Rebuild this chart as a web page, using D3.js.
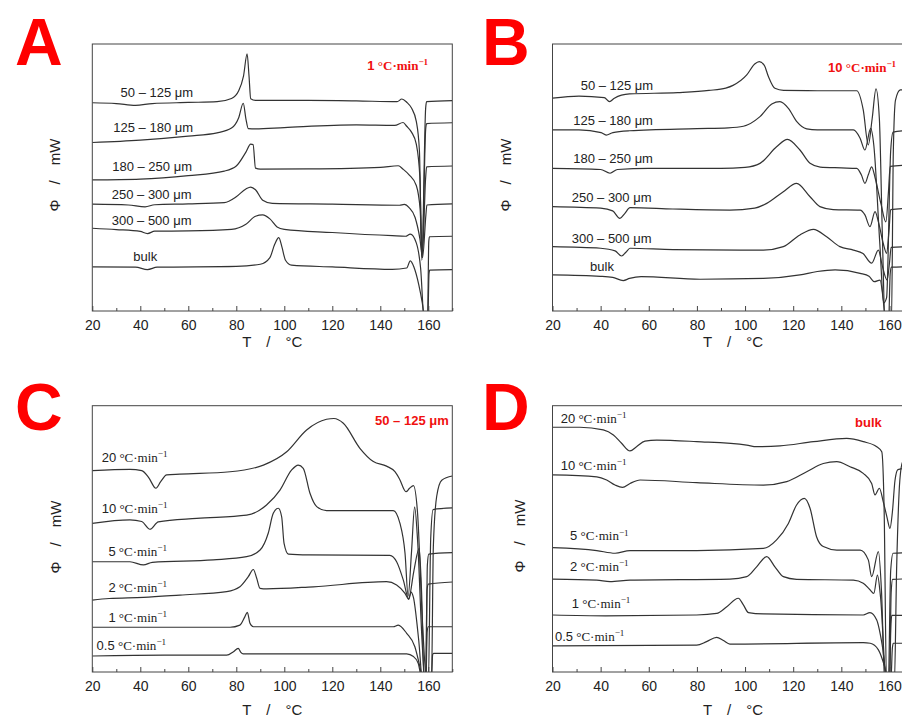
<!DOCTYPE html>
<html>
<head>
<meta charset="utf-8">
<script src="https://cdn.jsdelivr.net/npm/d3@7"></script>
<style>
  body { margin: 0; background: #fff; }
  svg { display: block; }
  text { font-family: Arial, "Liberation Sans", sans-serif; fill: #222; }
</style>
</head>
<body>
<svg id="fig" width="902" height="717"></svg>
<script>
// ---- data: [T in °C, heat flow (arbitrary, stacked)] ----

const tempTicks = [20, 40, 60, 80, 100, 120, 140, 160];
const tempMinor = [30, 50, 70, 90, 110, 130, 150, 170];

const sizeNames = ["50 – 125 μm", "125 – 180 μm", "180 – 250 μm", "250 – 300 μm", "300 – 500 μm", "bulk"];
const rateNames = ["20", "10", "5", "2", "1", "0.5"];

// A: 1 °C/min, particle sizes
const a_50_125 = [[20,78.0],[30,77.7],[38,77.0],[45,77.7],[60,78.1],[72,78.4],[78,79.6],[81,82.5],[83,88],[84.5,96.3],[85.3,88],[86,79.5],[88,78.9],[110,78.9],[130,78.7],[147,78.4],[149,79.4],[151,78.2],[153,76],[155,71],[156.3,60],[157.3,19],[158.9,76],[159.3,78.4],[170,78.8]];
const a_125_180 = [[20,63.1],[40,64.0],[60,65.5],[72,66.7],[78,68.5],[81,72.4],[82.9,77.8],[84,72],[85,68.3],[88,68.2],[100,68.7],[130,69.7],[146,69.5],[149.5,70.6],[151,69.2],[153,67],[155,62.5],[156.5,50],[157.4,20],[158.9,68],[159.3,70.2],[170,70.5]];
const a_180_250 = [[20,49.1],[40,49.4],[60,50.7],[75,52.4],[80,54.3],[84,59.5],[86,62.5],[87,62.3],[88,53.5],[90,53.1],[110,53.2],[140,53.8],[147.5,54.4],[149.5,53.1],[152,51],[155,47],[156.6,38],[157.5,21],[158.9,50],[159.3,54.0],[170,54.3]];
const a_250_300 = [[20,40.0],[35,39.7],[42,39.0],[46,39.8],[60,40.1],[75,40.6],[80,42.8],[84,45.7],[86,46.4],[88,45.4],[91,41.5],[95,40.3],[120,40.0],[148,39.6],[150,39.9],[152,38.7],[154.5,35],[156.5,27],[157.6,20],[159,36],[159.4,39.7],[170,40.1]];
const a_300_500 = [[20,31.0],[30,30.5],[40,29.8],[43,29.0],[46,29.9],[60,30.0],[78,30.6],[84,32.5],[88,35.5],[91,36.0],[94,34.5],[97,31.5],[100,30.6],[120,29.4],[145,28.2],[150.5,28.0],[152.5,28.8],[155,25.5],[156.8,16],[158.3,-3],[159.7,-3],[160.2,26],[160.5,27.8],[170,28.0]];
const a_bulk = [[20,16.5],[38,16.4],[43,15.5],[47,16.4],[80,16.7],[90,17.5],[94,20],[96,25],[97.7,27.5],[99,24],[100.5,19],[103,17.2],[120,16.5],[145,15.6],[151,16.1],[152.5,18.8],[154,16.5],[156,10],[157.5,3],[158.5,-3],[159.8,-3],[160.3,14],[160.6,15.3],[170,15.5]];

// B: 10 °C/min, particle sizes
const b_50_125 = [[20,79.7],[31,80.5],[41.5,79.9],[43.7,78.4],[45.7,79.7],[52,81.3],[72,81.8],[85,82.6],[92,83.5],[95,84.5],[100.7,88.4],[104,92.5],[105.9,93.4],[108,92],[109.7,87.8],[112.4,83.4],[116,82.6],[130,82.5],[146.4,82.5],[149.1,75.3],[151.2,62.2],[152.8,72],[154.4,83.2],[155.8,72],[157,30],[158.2,-5],[160.8,-5],[161.6,60],[162.5,79],[164.5,82.8],[170,83]];
const b_125_180 = [[20,67.8],[31,67.8],[40.2,66.8],[42.3,65.9],[45.1,66.8],[52,67.5],[80,68.3],[93,68.6],[99.3,69.2],[106.2,72.8],[111.1,77.5],[114.5,78.4],[118,75.9],[121.5,70.9],[125.6,68.2],[130,67.8],[145,67.8],[147.8,64.7],[149.8,60.3],[152.2,68.4],[153.5,62],[156,25],[157.6,3],[158.8,5],[160.5,60],[161.5,67],[170,67.8]];
const b_180_250 = [[20,53.4],[40,53.0],[43.9,51.6],[47,53.0],[60,53.4],[90,53.4],[100,53.8],[106.2,55.3],[113.1,61.5],[117.6,64.3],[122.8,60.3],[127,55.3],[131.2,53.9],[140,53.6],[146.4,53.4],[148.3,51],[149.8,47.8],[151.2,51],[152.6,54.0],[154,50],[156.5,40],[158.5,33.4],[159.6,45],[160.3,54.2],[170,54.7]];
const b_250_300 = [[20,39.1],[40,38.5],[45,37.5],[48,34.7],[50,36.5],[52.2,38.7],[70,38.2],[93.7,37.8],[104,38.5],[109,40.3],[115.9,44.7],[121.4,47.8],[127,42.8],[131.1,39.1],[136.6,38.0],[147.8,37.8],[149.8,36],[151.9,31.6],[154,37.2],[155.5,33],[157.5,25],[158.8,21.6],[159.8,30],[160.5,38.0],[170,38.5]];
const b_300_500 = [[20,24.1],[40,23.5],[46,22.5],[48.7,20.6],[50.5,22],[52.2,23.5],[70,23.0],[107.6,22.8],[115.9,24.1],[122.8,28.5],[128.4,30.6],[133.9,27.8],[139.4,24.1],[145,22.8],[149,21.5],[152.6,17.9],[155.4,22.8],[157,17],[159,11.6],[160,18],[160.7,23.8],[170,24.1]];
const b_bulk = [[20,13.5],[40,13.0],[45,12.6],[49.4,11.4],[52,12.2],[56.8,12.9],[81.3,11.9],[107.6,12.2],[122.8,13.5],[130,14.8],[137.4,15.4],[147.8,14.1],[151.5,13],[153.7,11.0],[156.1,11.6],[157.3,5],[158.5,-5],[159.6,-5],[160.3,14],[160.8,16.4],[170,16.6]];

// C: 50–125 μm, heating rates
const c_20 = [[20,75.6],[35.7,76.1],[40.6,75.6],[43.5,73],[46.5,69.0],[48.5,71.5],[51,74],[56.5,74.3],[77.4,75.2],[91.3,77.7],[101,82.7],[109.3,90.9],[117.6,94.9],[120.7,95.2],[124.6,93.4],[131.5,84.0],[137.1,79.0],[142.6,77.3],[146.1,75.2],[148,72.5],[150.7,67.7],[152.2,69],[153.8,70],[155.5,60],[157.5,20],[159.5,-5],[161.3,-5],[162.1,47],[163.5,66],[165.6,72],[170,73.6]];
const c_10 = [[20,55.8],[35.7,57.1],[40.6,56.5],[44,53.6],[47.5,56.4],[63.5,57.7],[84.3,58.9],[92.6,62.7],[98.2,68.3],[103,75.8],[105.8,77.7],[107.9,76.5],[110.7,67.1],[113.5,62.1],[117.6,60.6],[145.4,60.6],[148.2,55.8],[150.3,44.6],[151.6,28.5],[153,45],[154.3,62],[155.5,50],[157.5,10],[158.8,-5],[160,-5],[161,50],[162,61],[170,61.6]];
const c_5 = [[20,41.4],[35.7,41.4],[41.3,40.2],[45,41.2],[70.4,42.1],[84.3,43.3],[89.9,45.8],[93.3,52.1],[95.4,59.6],[97.5,61.5],[98.9,58.3],[99.9,48.3],[101.7,44.3],[110,44.0],[144,43.8],[146.8,41.4],[149.6,34.5],[151.8,27.5],[154,38],[156.2,46.4],[157.2,30],[158.3,-5],[159,-5],[159.6,40],[160.2,44.3],[170,44.8]];
const c_2 = [[20,27.0],[27,27.6],[41.3,28.0],[56.5,28.9],[76,30.2],[81.5,32.0],[85,35.8],[87.1,38.5],[88.5,35.2],[89.9,31.4],[92.6,31.2],[112.1,32.0],[142.6,33.9],[146.8,32.7],[150.3,29.5],[151.9,27.3],[152.8,30],[153.8,28],[156,12],[157.8,-5],[158.8,-5],[159.5,31],[160,33.0],[170,33.8]];
const c_1 = [[20,16.8],[50,16.8],[77.4,16.8],[81.5,17.6],[83.6,20.8],[84.6,22.4],[85.7,18.3],[87.1,17.0],[120,17.0],[145.4,17.0],[147.5,17.6],[151,14.5],[154.4,9.5],[156.5,2],[158.2,-5],[159,-5],[159.5,15],[160,17.0],[170,17.0]];
const c_05 = [[20,6.0],[50,6.3],[76,6.3],[78.8,7.6],[80.8,8.9],[81.8,7.5],[82.9,6.8],[120,6.8],[151,6.8],[153.8,5.8],[155.8,3.3],[157.5,-3],[161.3,-3],[161.8,6.5],[162.2,7.0],[170,7.0]];

// D: bulk, heating rates
const d_20 = [[20,91.9],[31.4,91.9],[41.1,90.9],[45.3,89.0],[48.7,85.9],[52.2,83.0],[54.9,84.6],[58.4,86.7],[63.3,87.1],[79.9,86.5],[100.7,85.2],[104.8,84.6],[114.5,84.9],[128.4,86.5],[142.2,87.7],[149.1,86.5],[154.7,84.6],[156.8,82.7],[157.8,60],[158.8,-5],[162,-5],[163,40],[164.3,72],[165.5,79],[170,82]];
const d_10 = [[20,74.0],[38.4,73.3],[42.5,72.1],[46,70.2],[49.1,69.3],[52.2,70.8],[56.4,72.1],[79.9,71.1],[107.6,70.2],[117.3,71.5],[125.6,75.2],[132.5,78.3],[138.1,79.0],[143.6,77.1],[149.1,74.6],[152.6,70.8],[154,66.5],[155.8,69.0],[157.4,64],[159,58],[160.2,53.9],[161.2,60],[162.3,72],[163.5,76],[170,77]];
const d_5 = [[20,46.7],[38.4,45.6],[46,44.6],[52.2,45.6],[79.9,45.6],[107.6,46.4],[113.1,49.6],[118,55.8],[121.4,62.7],[124.6,65.2],[127,61.5],[129.7,50.8],[132.5,47.1],[138.1,45.8],[147.8,45.8],[151.2,42.1],[152.6,35.8],[155.4,45.2],[156.7,30],[158.1,-5],[159.5,-5],[160.5,38],[161.5,44.6],[170,44.8]];
const d_2 = [[20,34.9],[38.4,34.5],[43.9,33.9],[52.2,34.5],[93.7,34.9],[100.7,35.8],[104.8,39.5],[109,43.3],[112.4,39.5],[115.9,35.8],[121.4,34.8],[145,34.5],[149.1,33.3],[151.8,31],[153.5,29.5],[155,36.4],[156.3,28],[158.8,-5],[160,-5],[160.7,30],[161.3,34.8],[170,35]];
const d_1 = [[20,21.4],[42,21.1],[79.9,21.4],[88.2,22.0],[92.4,24.5],[97.2,27.7],[99.3,25.2],[101.4,22.3],[107.6,21.8],[149.1,21.4],[151.9,22.3],[154.7,19.5],[157,10],[159.3,-5],[160,-5],[160.6,18],[161,21.3],[170,21.3]];
const d_05 = [[20,9.8],[79.9,10.1],[84,11.4],[88.2,13.0],[91,11.8],[93.7,10.5],[149.1,11.0],[152,10.8],[155.4,8.3],[158,2],[159.5,-3],[160.6,-3],[161.2,9],[161.6,10.8],[170,10.8]];

// ---- layout ----
const panels = [
  { letter: "A", lx: 15, ly: 65, left: 92.3, kx: 2.4, top: 44, bottom: 311, titleDy: 36, ylab: [55, 175],
    curves: [a_50_125, a_125_180, a_180_250, a_250_300, a_300_500, a_bulk], names: sizeNames, kind: "size",
    labelAt: [[31.8,80.3],[28.75,67.2],[28.3,52.6],[28.1,41.9],[28.1,32.3],[37.1,18.8]],
    note: { text: "1", rate: true, at: [134.6, 90.3] } },
  { letter: "B", lx: 482, ly: 65, left: 552.5, kx: 2.407, top: 44, bottom: 311, titleDy: 36, ylab: [506, 175],
    curves: [b_50_125, b_125_180, b_180_250, b_250_300, b_300_500, b_bulk], names: sizeNames, kind: "size",
    labelAt: [[31.7,82.8],[28.6,69.5],[28.6,55.6],[28.0,40.8],[28.0,25.5],[35.6,14.8]],
    note: { text: "10", rate: true, at: [134.5, 89.7] } },
  { letter: "C", lx: 15, ly: 430, left: 92.3, kx: 2.4, top: 405.7, bottom: 672, titleDy: 43, ylab: [56, 537],
    curves: [c_20, c_10, c_5, c_2, c_1, c_05], names: rateNames, kind: "rate",
    labelAt: [[23.9,78.9],[23.9,59.7],[26.7,43.7],[26.7,30.0],[26.7,18.8],[21.8,8.4]],
    note: { text: sizeNames[0], rate: false, at: [137.8, 92.8] } },
  { letter: "D", lx: 482, ly: 430, left: 552.5, kx: 2.407, top: 405.7, bottom: 672, titleDy: 43, ylab: [520, 536],
    curves: [d_20, d_10, d_5, d_2, d_1, d_05], names: rateNames, kind: "rate",
    labelAt: [[23.4,93.5],[23.4,75.7],[27.3,49.4],[27.3,37.9],[28.0,24.0],[21.0,11.8]],
    note: { text: sizeNames[5], rate: false, at: [145.7, 92.1] } }
];

const svg = d3.select("#fig");
const serif = "'Times New Roman', 'Liberation Serif', serif";

// "°C·min⁻¹" suffix with serif glyphs and a superscript
function rateSuffix(t, size) {
  t.append("tspan").attr("font-family", serif).text("\u00a0°C·min");
  t.append("tspan").attr("font-family", serif).attr("font-size", size * 0.7).attr("dy", -size * 0.38).text("−1");
}

panels.forEach((p, pi) => {
  const x = d3.scaleLinear().domain([20, 170]).range([p.left, p.left + 150 * p.kx]);
  const y = d3.scaleLinear().domain([0, 100]).range([p.bottom, p.top]);
  const g = svg.append("g");

  // clip curves to the plot frame
  const clipId = "clip" + pi;
  svg.append("clipPath").attr("id", clipId)
    .append("rect")
    .attr("x", x(20)).attr("y", y(100))
    .attr("width", x(170) - x(20)).attr("height", y(0) - y(100));

  const line = d3.line()
    .x(d => x(d[0]))
    .y(d => y(d[1]))
    .curve(d3.curveMonotoneX);

  g.append("g").attr("clip-path", `url(#${clipId})`)
    .selectAll("path")
    .data(p.curves)
    .join("path")
    .attr("d", line)
    .attr("fill", "none")
    .attr("stroke", "#333")
    .attr("stroke-width", 1.2);

  // frame
  g.append("rect")
    .attr("x", x(20)).attr("y", y(100))
    .attr("width", x(170) - x(20)).attr("height", y(0) - y(100))
    .attr("fill", "none").attr("stroke", "#444").attr("stroke-width", 1);

  // bottom axis, ticks pointing inward
  const axis = g.append("g")
    .attr("transform", `translate(0,${p.bottom})`)
    .call(d3.axisBottom(x).tickValues(tempTicks).tickSize(-5).tickPadding(9));
  axis.select(".domain").remove();
  axis.selectAll("line").attr("stroke", "#444");
  axis.selectAll("text").attr("font-size", 14).attr("fill", "#222")
    .attr("font-family", "Arial, 'Liberation Sans', sans-serif");

  const minor = g.append("g")
    .attr("transform", `translate(0,${p.bottom})`)
    .call(d3.axisBottom(x).tickValues(tempMinor).tickSize(-3).tickFormat(""));
  minor.select(".domain").remove();
  minor.selectAll("line").attr("stroke", "#444");

  // axis titles
  g.append("text")
    .attr("x", (x(20) + x(170)) / 2)
    .attr("y", p.bottom + p.titleDy)
    .attr("text-anchor", "middle")
    .attr("font-size", 15)
    .text("T\u2002\u2002/\u2002\u2002°C");

  g.append("text")
    .attr("transform", `translate(${p.ylab[0]},${p.ylab[1]}) rotate(-90)`)
    .attr("text-anchor", "middle")
    .attr("dy", "0.35em")
    .attr("font-size", 15)
    .text("Φ\u2002\u2002/\u2002\u2002mW");

  // panel letter
  svg.append("text")
    .attr("x", p.lx).attr("y", p.ly)
    .attr("font-size", 66).attr("font-weight", "bold")
    .style("fill", "#ff0000")
    .text(p.letter);

  // curve labels
  p.names.forEach((name, i) => {
    const t = g.append("text")
      .attr("x", x(p.labelAt[i][0]))
      .attr("y", y(p.labelAt[i][1]))
      .attr("font-size", 13);
    if (p.kind === "size") {
      t.text(name);
    } else {
      t.append("tspan").text(name);
      rateSuffix(t, 13);
    }
  });

  // red condition note
  const n = g.append("text")
    .attr("x", x(p.note.at[0]))
    .attr("y", y(p.note.at[1]))
    .attr("font-size", 13)
    .attr("font-weight", "bold")
    .style("fill", "#f01010");
  if (p.note.rate) {
    n.attr("font-family", serif);
    n.append("tspan").text(p.note.text);
    rateSuffix(n, 13);
  } else {
    n.text(p.note.text);
  }
});
</script>
</body>
</html>
